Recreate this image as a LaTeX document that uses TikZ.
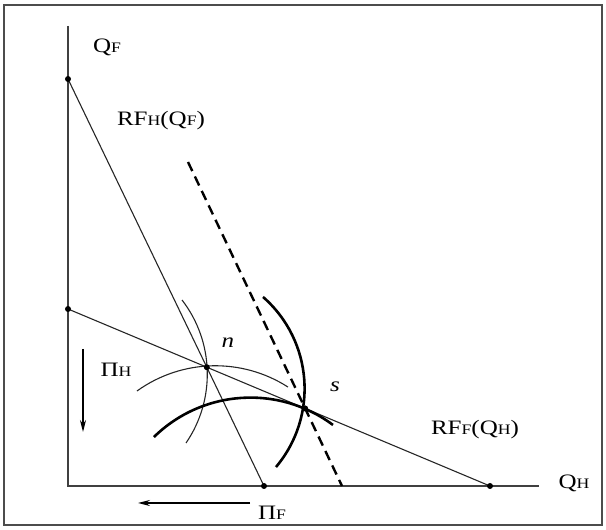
\documentclass[tikz,border=0pt]{standalone}
\usepackage{fontspec}
\setmainfont{Liberation Serif}[FakeStretch=1.22]
\usepackage{tikz}
\usetikzlibrary{arrows.meta}
\newcommand{\lc}[1]{{\fontsize{14.5}{14.5}\selectfont #1}}

\begin{document}
\begin{tikzpicture}[x=1pt,y=1pt,
                  axis/.style={line width=1.8pt,draw=black!75},
                  rline/.style={line width=1.1pt,draw=black!85},
                  react/.style={line width=2.4pt,dash pattern=on 10pt off 6pt},
                  iso/.style={line width=1.1pt,draw=black!85},
                  isob/.style={line width=2.6pt},
                  dot/.style={circle,fill=black,inner sep=0pt,minimum size=6pt},
                  lbl/.style={font=\fontsize{20.5}{22}\selectfont,inner sep=0pt},
                  move/.style={-{Stealth[length=12pt,width=6pt]},line width=1.4pt}
                ]
                \useasboundingbox (0,0) rectangle (606,530);
                \draw[line width=1.5pt,black!70] (4,5) rectangle (602,525);

                \coordinate (O) at (68,44);
                \coordinate (ytop) at (68,504);
                \coordinate (xend) at (539,44);
                \draw[axis] (ytop) -- (O) -- (xend);

                \coordinate (a) at (68,451);
                \coordinate (b) at (264,44);
                \coordinate (c) at (68,221);
                \coordinate (d) at (490,44);
                \coordinate (e) at (188,368);
                \coordinate (f) at (342,44);
                \coordinate (n) at (intersection of a--b and c--d);
                \coordinate (s) at (intersection of e--f and c--d);

                \draw[rline] (a) -- (b);
                \draw[rline] (c) -- (d);
                \draw[react] (e) -- (f);

                \draw[iso] (85.6,155.75) ++(-34.4:121.7) arc[start angle=-34.4,end angle=37.6,radius=121.7pt];
                \draw[iso] (215.4,29.85) ++(125.7:134.4) arc[start angle=125.7,end angle=57.3,radius=134.4pt];
                \draw[isob] (182.8,141.4) ++(-40.1:121.8) arc[start angle=-40.1,end angle=48.8,radius=121.8pt];
                \draw[isob] (250.5,-5.6) ++(134.4:138) arc[start angle=134.4,end angle=53.3,radius=138pt];

                \foreach \p in {a,b,c,d,n,s}
                  \node[dot] at (\p) {};

                \node[lbl] (qf) at (107,483) {Q\lc{F}};
                \node[lbl] (rfh) at (161,409) {RF\lc{H}(Q\lc{F})};
                \node[lbl,font=\fontsize{20.5}{22}\selectfont\itshape] (nlab) at (228,187) {n};
                \node[lbl,font=\fontsize{20.5}{22}\selectfont\itshape] (slab) at (335,143) {s};
                \node[lbl] (pih) at (116,160) {Π\lc{H}};
                \node[lbl] (rff) at (475,100) {RF\lc{F}(Q\lc{H})};
                \node[lbl] (qh) at (574,47) {Q\lc{H}};
                \node[lbl] (pif) at (272,17) {Π\lc{F}};

                \coordinate (ph1) at (83,181);
                \coordinate (ph2) at (83,98);
                \coordinate (pf1) at (250,27);
                \coordinate (pf2) at (138,27);
                \draw[move] (ph1) -- (ph2);
                \draw[move] (pf1) -- (pf2);
                \end{tikzpicture}
\end{document}
